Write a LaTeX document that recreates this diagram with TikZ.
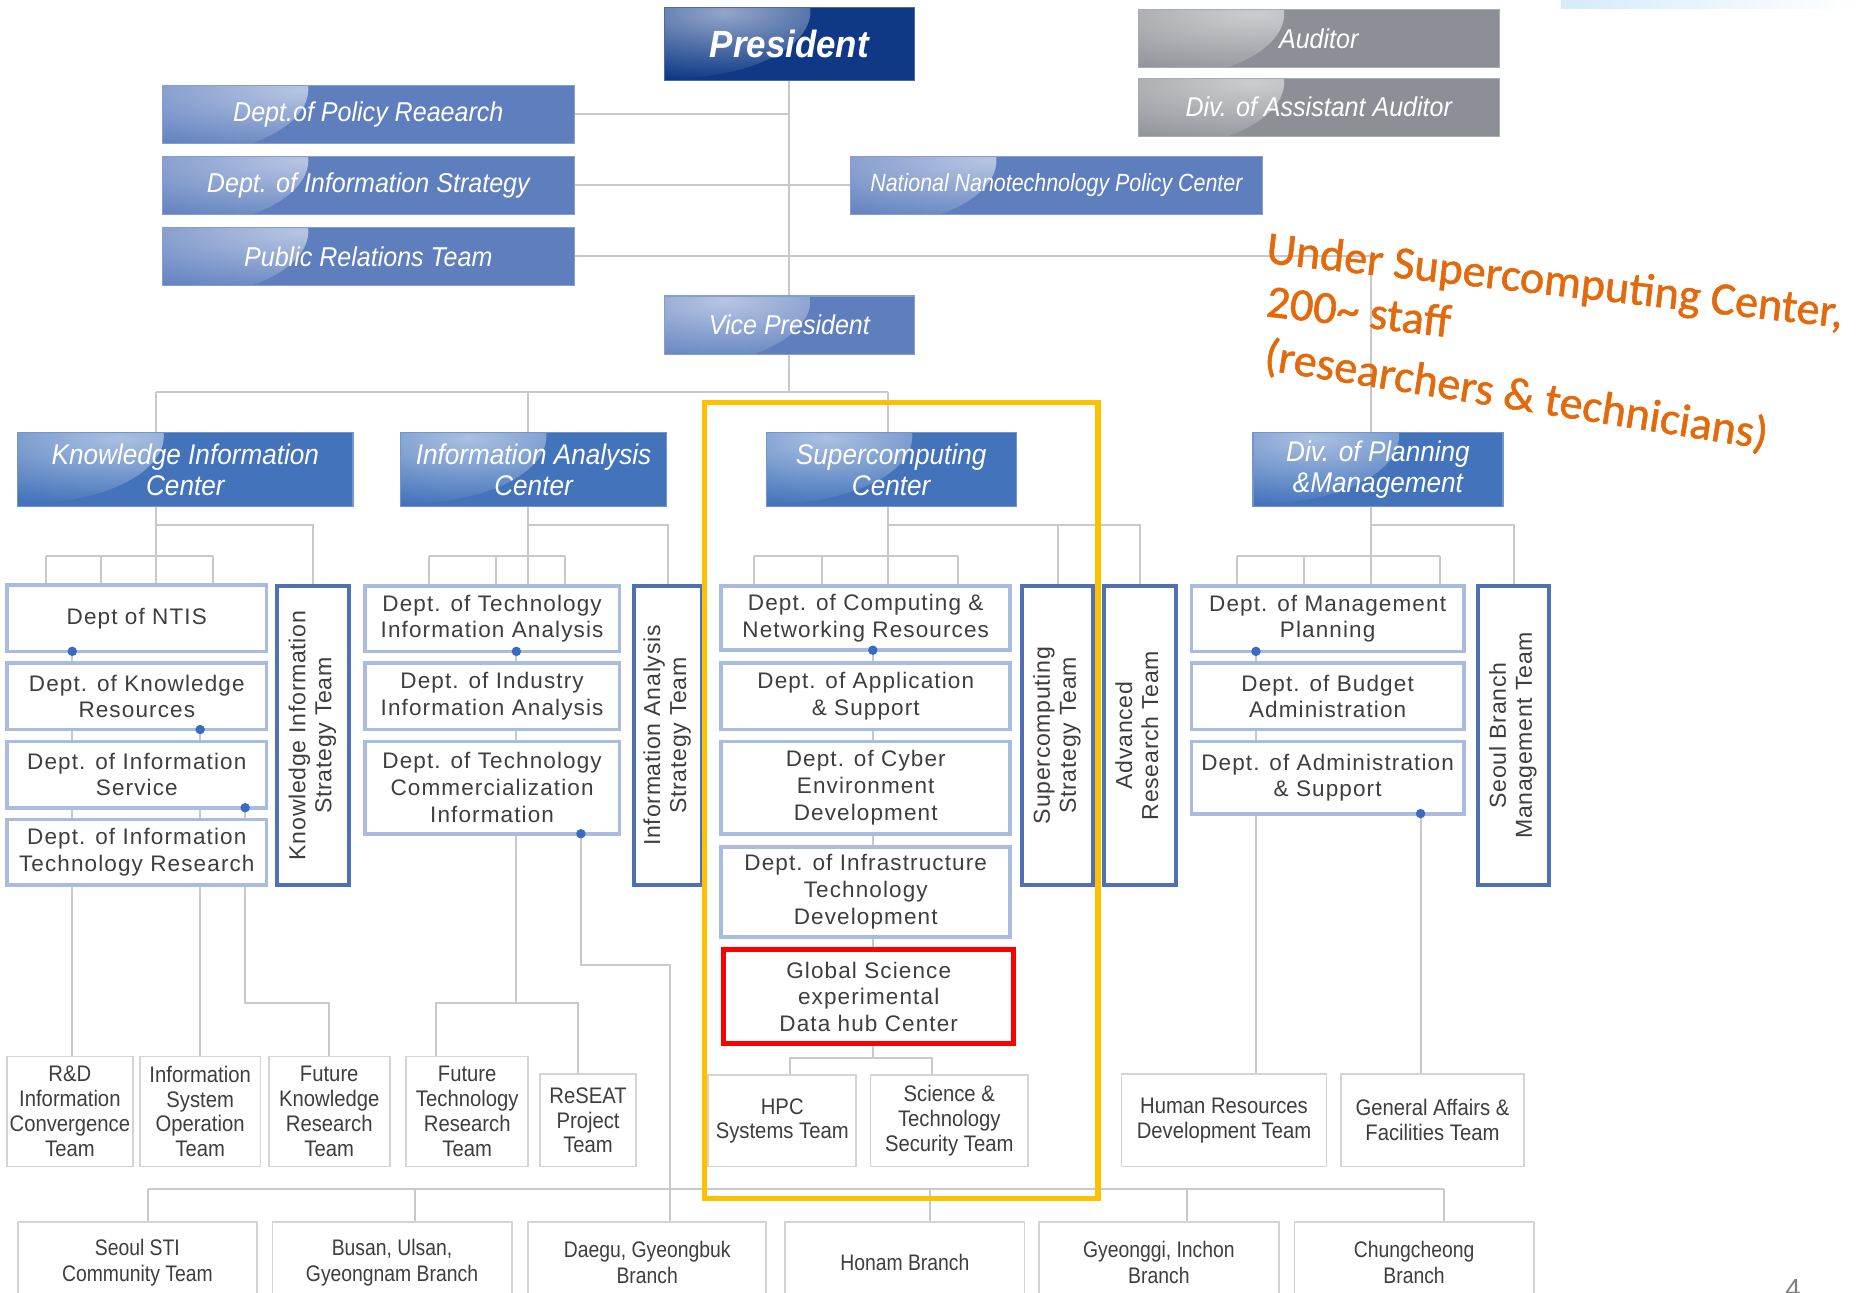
\documentclass[tikz,border=0pt]{standalone}
\usepackage{fontspec}
\setmainfont{Liberation Sans}
\newfontfamily\hfont[FakeStretch=0.92]{Liberation Sans}
\newfontfamily\nfont[FakeStretch=0.86]{Liberation Sans}
\newfontfamily\dfont[LetterSpace=5]{Liberation Sans}
\newfontfamily\vfont[LetterSpace=3]{Liberation Sans}
\newfontfamily\tfont[FakeStretch=0.9]{Liberation Sans}
\newfontfamily\bfont[FakeStretch=0.86]{Liberation Sans}
\newfontfamily\notefont[FakeBold=1.2]{Carlito}

\definecolor{navy}{HTML}{0F3987}
\definecolor{topblue}{HTML}{5E7EBE}
\definecolor{midblue}{HTML}{4373BB}
\definecolor{audgray}{HTML}{8C8F95}
\definecolor{deptedge}{HTML}{A9BCE0}
\definecolor{teamedge}{HTML}{4F70B5}
\definecolor{lineg}{HTML}{C9C9C9}
\definecolor{dotblue}{HTML}{3A6BC4}
\definecolor{boxgray}{HTML}{D4D4D4}
\definecolor{txtgray}{HTML}{3E3E3E}
\definecolor{hilite}{HTML}{FFC000}
\definecolor{noteor}{HTML}{E26A0C}
\definecolor{barblue}{HTML}{D4EBFB}

\pgfdeclarelayer{bg}
\pgfsetlayers{bg,main}

\tikzset{
  base/.style={inner sep=0pt, outer sep=0pt, align=center},
  hdr/.style={base, fill=#1, draw=#1!75!white, line width=0.6pt, text=white,
    path picture={\shade[inner color=#1!45!white, outer color=#1]
      ([xshift=4pt,yshift=-2pt]path picture bounding box.north west)
      ellipse [x radius=70pt, y radius=34pt];}},
  presfont/.style={font=\hfont\bfseries\itshape\fontsize{19.2}{22}\selectfont},
  topfont/.style={font=\hfont\itshape\fontsize{13.8}{16}\selectfont},
  nnfont/.style={font=\nfont\itshape\fontsize{12.6}{15}\selectfont},
  centerfont/.style={font=\hfont\itshape\fontsize{14.4}{15.6}\selectfont},
  dept/.style={base, fill=white, draw=deptedge, line width=1.9pt, text=txtgray,
    font=\dfont\fontsize{11.4}{13.5}\selectfont},
  vteam/.style={base, fill=white, draw=teamedge, line width=2.1pt, text=txtgray,
    font=\vfont\fontsize{11.7}{13.2}\selectfont},
  team/.style={base, fill=white, draw=boxgray, line width=0.9pt, text=txtgray,
    font=\tfont\fontsize{11.4}{12.6}\selectfont},
  branch/.style={team, font=\bfont\fontsize{11.4}{13.2}\selectfont},
  conn/.style={draw=lineg, line width=1pt},
  note/.style={inner sep=0pt, text=noteor, font=\notefont\fontsize{23.4}{26}\selectfont},
}

% box by its corners: name, style, x1, y1, x2, y2
\newcommand\bx[6]{\node[#2, minimum width={(#5-#3)*0.6pt}, minimum height={(#6-#4)*0.6pt}] (#1) at ({(#3+#5)/2},{(#4+#6)/2})}
\newcommand\vtext[2]{\rotatebox{90}{\begin{tabular}{@{}c@{}}#1\\#2\end{tabular}}}

\begin{document}
\begin{tikzpicture}[x=0.6pt, y=-0.6pt]
\useasboundingbox (0,0) rectangle (1568,1091);
\begin{pgfonlayer}{bg}
  \fill[white] (0,0) rectangle (1568,1091);
\end{pgfonlayer}
\clip (0,0) rectangle (1568,1091);

% corner strip
\shade[left color=barblue, right color=white] (1318,0) rectangle (1568,7);

% ---- top management
\bx{pres}{hdr=navy, presfont}{561}{6}{772}{68} {President};
\bx{aud}{hdr=audgray, topfont}{961}{8}{1266}{57} {Auditor};
\bx{aaud}{hdr=audgray, topfont}{961}{66}{1266}{115} {Div. of Assistant Auditor};
\bx{policy}{hdr=topblue, topfont}{137}{72}{485}{121} {Dept.of Policy Reaearch};
\bx{istrat}{hdr=topblue, topfont}{137}{132}{485}{181} {Dept. of Information Strategy};
\bx{pr}{hdr=topblue, topfont}{137}{192}{485}{241} {Public Relations Team};
\bx{nnpc}{hdr=topblue, nnfont}{718}{132}{1066}{181} {National Nanotechnology Policy Center};
\bx{vp}{hdr=topblue, topfont}{561}{250}{772}{299} {Vice President};

% ---- centers
\bx{kic}{hdr=midblue, centerfont}{15}{365}{298}{428} {Knowledge Information\\Center};
\bx{iac}{hdr=midblue, centerfont}{338}{365}{563}{428} {Information Analysis\\Center};
\bx{scc}{hdr=midblue, centerfont}{647}{365}{858}{428} {Supercomputing\\Center};
\bx{plan}{hdr=midblue, centerfont}{1058}{365}{1269}{428} {Div. of Planning\\\&Management};

% ---- departments
\bx{ntis}{dept}{6}{494}{225}{550} {Dept of NTIS};
\bx{kres}{dept}{6}{560}{225}{616} {Dept. of Knowledge\\Resources};
\bx{isvc}{dept}{6}{626}{225}{682} {Dept. of Information\\Service};
\bx{itr}{dept}{6}{692}{225}{747} {Dept. of Information\\Technology Research};
\bx{kist}{vteam}{234}{495}{295}{747} {\vtext{Knowledge Information}{Strategy Team}};

\bx{tia}{dept}{308}{495}{523}{550} {Dept. of Technology\\Information Analysis};
\bx{iia}{dept}{308}{560}{523}{616} {Dept. of Industry\\Information Analysis};
\bx{tci}{dept}{308}{626}{523}{704} {Dept. of Technology\\Commercialization\\Information};
\bx{iast}{vteam}{535}{495}{593}{747} {\vtext{Information Analysis}{Strategy Team}};

\bx{cnr}{dept}{609}{495}{853}{549} {Dept. of Computing \&\\Networking Resources};
\bx{aps}{dept}{609}{560}{853}{616} {Dept. of Application\\\& Support};
\bx{ced}{dept}{609}{626}{853}{704} {Dept. of Cyber\\Environment\\Development};
\bx{itd}{dept}{609}{715}{853}{791} {Dept. of Infrastructure\\Technology\\Development};
\bx{gsd}{dept, draw=red, line width=2.7pt}{611}{802}{856}{881} {Global Science\\experimental\\Data hub Center};
\bx{scst}{vteam}{863}{495}{923}{747} {\vtext{Supercomputing}{Strategy Team}};
\bx{art}{vteam}{932}{495}{993}{747} {\vtext{Advanced}{Research Team}};

\bx{mgp}{dept}{1006}{495}{1236}{550} {Dept. of Management\\Planning};
\bx{bud}{dept}{1006}{560}{1236}{616} {Dept. of Budget\\Administration};
\bx{adm}{dept}{1006}{626}{1236}{687} {Dept. of Administration\\\& Support};
\bx{sbmt}{vteam}{1248}{495}{1308}{747} {\vtext{Seoul Branch}{Management Team}};

% ---- teams
\bx{rdic}{team}{6}{892}{112}{985} {R\&D\\Information\\Convergence\\Team};
\bx{iso}{team}{118}{892}{220}{985} {Information\\System\\Operation\\Team};
\bx{fkr}{team}{227}{892}{329}{985} {Future\\Knowledge\\Research\\Team};
\bx{ftr}{team}{343}{892}{446}{985} {Future\\Technology\\Research\\Team};
\bx{reseat}{team}{456}{907}{537}{985} {ReSEAT\\Project\\Team};
\bx{hpc}{team}{598}{908}{723}{985} {HPC\\Systems Team};
\bx{sts}{team}{735}{908}{868}{985} {Science \&\\Technology\\Security Team};
\bx{hrd}{team}{947}{907}{1120}{985} {Human Resources\\Development Team};
\bx{gaf}{team}{1132}{907}{1287}{985} {General Affairs \&\\Facilities Team};

% ---- branches
\bx{seoul}{branch}{15}{1032}{217}{1100} {Seoul STI\\Community Team};
\bx{busan}{branch}{230}{1032}{432}{1100} {Busan, Ulsan,\\Gyeongnam Branch};
\bx{daegu}{branch}{446}{1032}{647}{1100} {Daegu, Gyeongbuk\\Branch};
\bx{honam}{branch}{663}{1032}{865}{1100} {Honam Branch};
\bx{gyeonggi}{branch}{877}{1032}{1080}{1100} {Gyeonggi, Inchon\\Branch};
\bx{chung}{branch}{1093}{1032}{1295}{1100} {Chungcheong\\Branch};

% ---- junction points
\coordinate (kstem) at (132,331);
\coordinate (istem) at (446,331);
\coordinate (sstem) at (750,331);
\coordinate (pstem) at (1158,0);
\coordinate (upy) at (0,443);
\coordinate (rowy) at (0,469.5);
\coordinate (jogA) at (0,847);
\coordinate (jogB) at (0,815);
\coordinate (jogC) at (0,893);
\coordinate (brbus) at (0,1004);

\path (ntis.south west) ++(55,0) coordinate (dntis);
\path (kres.south west) ++(163,0) coordinate (dkres);
\path (isvc.south west) ++(201,0) coordinate (disvc);
\path (tia.south west) ++(128,0) coordinate (dtia);
\path (tci.south west) ++(182.5,0) coordinate (dtci);
\path (cnr.south west) ++(128,0) coordinate (dcnr);
\path (mgp.south west) ++(54.5,0) coordinate (dmgp);
\path (adm.south west) ++(193.5,0) coordinate (dadm);

\path (ftr.north west) ++(25,0) coordinate (ftrin);
\path (reseat.north west) ++(32,0) coordinate (resin);
\path (hpc.north west) ++(69,0) coordinate (hpin);
\path (sts.north west) ++(52,0) coordinate (stin);
\path (seoul.north west) ++(110,0) coordinate (sein);
\path (busan.north west) ++(120,0) coordinate (buin);
\path (daegu.north west) ++(120,0) coordinate (dgin);
\path (honam.north west) ++(122,0) coordinate (hoin);
\path (gyeonggi.north west) ++(125,0) coordinate (gyin);
\path (chung.north west) ++(126,0) coordinate (chin);

\begin{pgfonlayer}{bg}
  % president and staff offices
  \draw[conn] (pres.south) -- (vp.north);
  \draw[conn] (policy.east) -- (policy.east -| pres.south);
  \draw[conn] (istrat.east) -- (nnpc.west);
  \draw[conn] (pr.east) -- (pr.east -| pstem) -- (pstem |- plan.north);
  % vice president to centers
  \draw[conn] (vp.south) -- (vp.south |- kstem);
  \draw[conn] (kstem) -- (sstem);
  \draw[conn] (kstem) -- (kstem |- kic.north);
  \draw[conn] (istem) -- (istem |- iac.north);
  \draw[conn] (sstem) -- (sstem |- scc.north);
  % center stems
  \draw[conn] (kstem |- kic.south) -- (kstem |- rowy);
  \draw[conn] (istem |- iac.south) -- (istem |- rowy);
  \draw[conn] (sstem |- scc.south) -- (sstem |- rowy);
  \draw[conn] (pstem |- plan.south) -- (pstem |- rowy);
  % strategy teams
  \draw[conn] (kstem |- upy) -| (kist.north);
  \draw[conn] (istem |- upy) -| (iast.north);
  \draw[conn] (sstem |- upy) -| (art.north);
  \draw[conn] (scst.north |- upy) -- (scst.north);
  \draw[conn] (pstem |- upy) -| (sbmt.north);
  % department buses
  \foreach \a/\b/\n/\xs in {39/180/ntis/{39,85,132,180},
                            362.5/477/tia/{362.5,419,446,477},
                            637/808.5/cnr/{637,694,750,808.5},
                            1044.5/1215.5/mgp/{1044.5,1101,1158,1215.5}} {
    \coordinate (ba) at (\a,469.5);
    \coordinate (bb) at (\b,469.5);
    \draw[conn] (ba) -- (bb);
    \foreach \x in \xs {
      \coordinate (tk) at (\x,469.5);
      \draw[conn] (tk) -- (tk |- \n.north);
    }
  }
  % departments to teams
  \draw[conn] (dntis) -- (dntis |- rdic.north);
  \draw[conn] (dkres) -- (dkres |- iso.north);
  \draw[conn] (disvc) -- (disvc |- jogA) -| (fkr.north);
  \draw[conn] (dtia) -- (dtia |- jogA);
  \draw[conn] (ftrin) |- (resin |- jogA) -- (resin);
  \draw[conn] (dtci) -- (dtci |- jogB) -| (dgin);
  \draw[conn] (dcnr) -- (dcnr |- jogC);
  \draw[conn] (hpin) |- (stin |- jogC) -- (stin);
  \draw[conn] (dmgp) -- (dmgp |- hrd.north);
  \draw[conn] (dadm) -- (dadm |- gaf.north);
  % regional branches
  \draw[conn] (sein |- brbus) -- (chin |- brbus);
  \foreach \c in {sein,buin,hoin,gyin,chin}
    \draw[conn] (\c |- brbus) -- (\c);
\end{pgfonlayer}

% junction dots
\foreach \d in {dntis,dkres,disvc,dtia,dtci,dcnr,dmgp,dadm}
  \fill[dotblue] (\d) circle (2.4pt);

% highlighted supercomputing block
\draw[hilite, line width=2.7pt] (595,340) rectangle (927,1012);

% annotation
\node[note, rotate=-6.4, anchor=base west] (note1) at (1068,222) {Under Supercomputing Center,};
\node[note, rotate=-6.5, anchor=base west] (note2) at (1068,267) {200\textasciitilde{} staff};
\node[note, rotate=-9, anchor=base west] (note3) at (1066,312) {(researchers \& technicians)};

% page number
\node[text=gray, font=\fontsize{14}{14}\selectfont, anchor=north, inner sep=0pt] (pgnum) at (1514,1080) {4};
\end{tikzpicture}
\end{document}
